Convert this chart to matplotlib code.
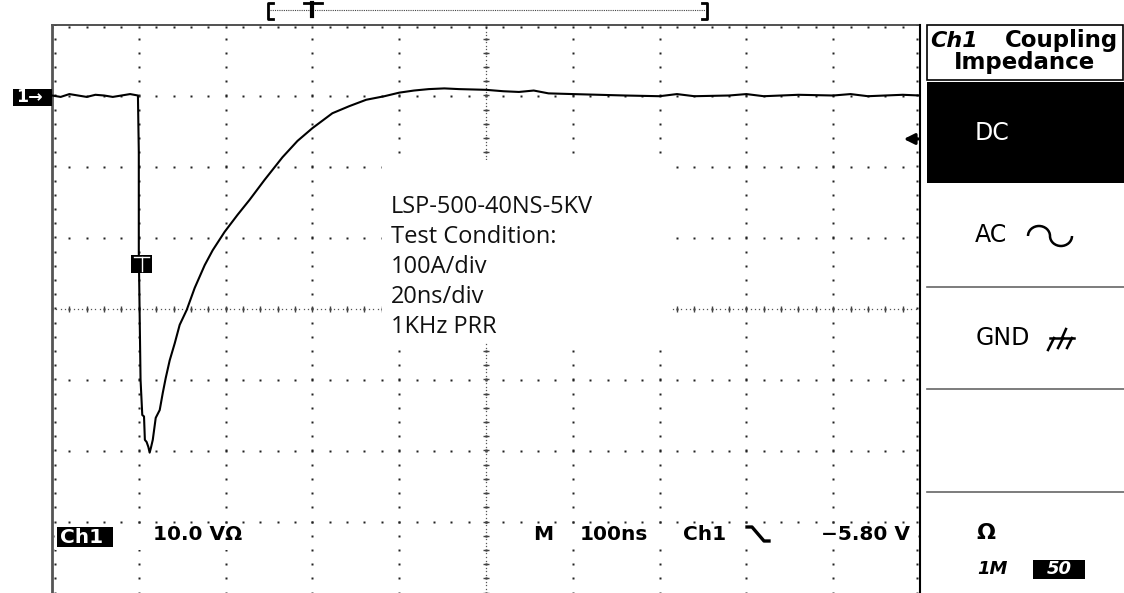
import matplotlib
matplotlib.use("Agg")
import matplotlib.pyplot as plt
import numpy as np
from matplotlib.patches import Rectangle, Arc

# ---------------- data (screen divisions: x 0..10, y -4..4) ----------------
time_div = [0.00, 0.10, 0.20, 0.30, 0.40, 0.50, 0.60, 0.70, 0.80, 0.90, 0.99,
            1.00, 1.00, 1.02, 1.04, 1.06, 1.07, 1.09, 1.11, 1.125, 1.14,
            1.161, 1.195, 1.241, 1.276, 1.31, 1.356, 1.414, 1.471, 1.552,
            1.644, 1.759, 1.851, 1.989, 2.138, 2.276, 2.448, 2.655, 2.828,
            3.00, 3.23, 3.425, 3.62, 3.83, 4.00, 4.17, 4.34, 4.52, 4.69,
            5.00, 5.20, 5.38, 5.55, 5.72, 6.00, 6.30, 6.60, 7.00, 7.20, 7.40,
            7.80, 8.00, 8.20, 8.60, 9.00, 9.20, 9.40, 9.80, 10.00]
amp_div = [3.00, 2.98, 3.02, 3.00, 2.98, 3.01, 3.00, 2.98, 3.00, 3.02, 3.00,
           2.20, 0.80, -1.00, -1.50, -1.52, -1.85, -1.88, -1.95, -2.03, -1.96,
           -1.85, -1.54, -1.43, -1.19, -0.98, -0.73, -0.49, -0.23, -0.02,
           0.29, 0.61, 0.82, 1.08, 1.32, 1.53, 1.81, 2.13, 2.36,
           2.54, 2.75, 2.85, 2.94, 2.99, 3.04, 3.07, 3.09, 3.10, 3.09,
           3.08, 3.06, 3.05, 3.07, 3.03, 3.02, 3.01, 3.00, 2.99, 3.02, 2.99,
           3.00, 3.02, 2.99, 3.01, 3.00, 3.02, 2.99, 3.01, 3.00]

notes = ["LSP-500-40NS-5KV", "Test Condition:", "100A/div", "20ns/div", "1KHz PRR"]
menu_title = ["Ch1", "Coupling", "Impedance"]
menu_items = ["DC", "AC", "GND"]
ch_label = "Ch1"
ch_scale = "10.0 V\u03a9"
readout_words = [("M", 533), ("100ns", 580), ("Ch1", 683)]
trig_level = "\u22125.80 V"

# ---------------- figure ----------------
W, H, DPI = 1124, 593, 100
fig = plt.figure(figsize=(W / DPI, H / DPI), dpi=DPI)
fig.patch.set_facecolor("white")

L, R, T, B = 52, 920, 24.5, 592.5
ax = fig.add_axes([L / W, 1 - B / H, (R - L) / W, (B - T) / H])
ax.set_xlim(0, 10)
ax.set_ylim(-4, 4)
ax.axis("off")

ov = fig.add_axes([0, 0, 1, 1], zorder=5)
ov.set_xlim(0, W)
ov.set_ylim(H, 0)
ov.axis("off")

dot = dict(ls="none", marker="s", ms=1.6, mec="none", mfc="#222222")

# graticule: dotted major lines, 5 dots per division
minor = np.arange(0, 10.001, 0.2)
minor_y = np.arange(-4, 4.001, 0.2)
for gx in range(1, 10):
    ax.plot(np.full_like(minor_y, gx), minor_y, **dot)
for gy in range(-3, 4):
    ax.plot(minor, np.full_like(minor, gy), **dot)
# centre lines: fine dots plus small cross ticks
fine_y = np.arange(-4, 4.001, 0.05)
fine_x = np.arange(0, 10.001, 0.05)
ax.plot(np.full_like(fine_y, 5.0), fine_y, ls="none", marker="s", ms=0.9, mec="none", mfc="#555555")
ax.plot(fine_x, np.zeros_like(fine_x), ls="none", marker="s", ms=0.9, mec="none", mfc="#555555")
ax.plot(np.full_like(minor_y, 5.0), minor_y, ls="none", marker="_", ms=5, mew=1, color="#444444")
ax.plot(minor, np.zeros_like(minor), ls="none", marker="|", ms=5, mew=1, color="#444444")
# border ticks
ax.plot(minor, np.full_like(minor, 3.96), **dot)
ax.plot(np.full_like(minor_y, 0.04), minor_y, **dot)
ax.plot(np.full_like(minor_y, 9.96), minor_y, **dot)

# border lines
ax.plot([0, 10], [4, 4], color="#333333", lw=1.2, clip_on=False)
ax.plot([0, 0], [-4, 4], color="#555555", lw=2, clip_on=False)
ax.plot([10, 10], [-4, 4], color="black", lw=1.5, clip_on=False)

# white boxes behind annotations
ov.add_patch(Rectangle((382, 160), 288, 182, facecolor="white", edgecolor="none", zorder=1))
ov.add_patch(Rectangle((55, 526), 215, 24, facecolor="white", edgecolor="none", zorder=1))
ov.add_patch(Rectangle((525, 525), 393, 24, facecolor="white", edgecolor="none", zorder=1))

# trace
ax.plot(time_div, amp_div, color="black", lw=1.5, zorder=10)

# notes in the middle
for i, s in enumerate(notes):
    ov.text(391, 207 + i * 30, s, fontsize=17, family="Open Sans", va="center", ha="left",
            color="#111111", zorder=3)

# channel marker "1->"
ov.add_patch(Rectangle((13, 89), 39, 17, facecolor="black", edgecolor="none", zorder=3))
ov.text(16, 97.5, "1\u2192", color="white", fontsize=12.5, fontweight="bold", va="center",
        ha="left", family="DejaVu Sans", zorder=4)

# trigger point marker T on trace
ov.add_patch(Rectangle((131, 255), 21, 18, facecolor="black", edgecolor="none", zorder=12))
ov.plot([134, 149], [257, 257], color="white", lw=1, zorder=13)
ov.plot([141.5, 141.5], [257, 271], color="white", lw=1, zorder=13)

# trigger level arrow on right
ov.annotate("", xy=(901, 139), xytext=(921, 139),
            arrowprops=dict(arrowstyle="-|>", lw=2.2, color="black", mutation_scale=16), zorder=6)

# top memory bracket
ov.plot([273, 268, 268, 273], [3, 3, 19, 19], color="black", lw=2)
ov.plot([702, 707, 707, 702], [3, 3, 19, 19], color="black", lw=2)
ov.plot([270, 705], [10, 10], color="#444444", lw=0.8, ls=(0, (1, 1)))
ov.plot([304, 322], [3, 3], color="black", lw=2)
ov.plot([312, 312], [3, 16], color="black", lw=3)

# bottom readouts
ov.add_patch(Rectangle((57, 527), 56, 20, facecolor="black", edgecolor="none", zorder=3))
ov.text(60, 537.5, ch_label, color="white", fontsize=14.5, fontweight="bold", va="center",
        ha="left", family="DejaVu Sans", zorder=4)
ov.text(153, 535, ch_scale, color="black", fontsize=14.5, fontweight="bold", va="center",
        ha="left", family="DejaVu Sans", zorder=4)
for word, xw in readout_words:
    ov.text(xw, 534, word, color="black", fontsize=14.5, fontweight="bold", va="center",
            ha="left", family="DejaVu Sans", zorder=4)
ov.plot([747, 752, 764, 769], [527, 527, 541, 541], color="black", lw=2.4, zorder=4)
ov.text(910, 534, trig_level, color="black", fontsize=14.5, fontweight="bold", va="center",
        ha="right", family="DejaVu Sans", zorder=4)

# ---------------- right side menu ----------------
PX0, PX1 = 927, 1123
ov.add_patch(Rectangle((PX0, 25), PX1 - PX0, 55, facecolor="white", edgecolor="black", lw=1.2))
ov.text(930, 41, menu_title[0], fontsize=16, fontstyle="italic", fontweight="bold", ha="left",
        va="center", family="DejaVu Sans")
ov.text(1118, 41, menu_title[1], fontsize=16.5, fontweight="bold", ha="right", va="center",
        family="DejaVu Sans")
ov.text(1025, 63, menu_title[2], fontsize=16.5, fontweight="bold", ha="center", va="center",
        family="DejaVu Sans")
ov.add_patch(Rectangle((PX0, 82), PX1 - PX0 + 1, 101, facecolor="black", edgecolor="none"))
ov.text(975, 133, menu_items[0], color="white", fontsize=17, ha="left", va="center",
        family="DejaVu Sans")
ov.text(975, 235, menu_items[1], color="black", fontsize=17, ha="left", va="center",
        family="DejaVu Sans")
# sine glyph after "AC"
ov.add_patch(Arc((1039, 236), 22, 20, theta1=180, theta2=360, color="black", lw=1.8))
ov.add_patch(Arc((1061, 236), 22, 20, theta1=0, theta2=180, color="black", lw=1.8))
ov.text(976, 338, menu_items[2], color="black", fontsize=17, ha="left", va="center",
        family="DejaVu Sans")
# ground glyph after "GND"
ov.plot([1050, 1074], [338, 338], color="black", lw=1.8)
ov.plot([1066, 1062], [329, 338], color="black", lw=1.8)
ov.plot([1054, 1048], [338, 350], color="black", lw=1.8)
ov.plot([1063, 1058], [338, 348], color="black", lw=1.8)
ov.plot([1072, 1067], [338, 348], color="black", lw=1.8)
for yy in (287, 389, 492):
    ov.plot([PX0, PX1 + 1], [yy, yy], color="#666666", lw=1.2)
ov.text(976, 533, "\u03a9", fontsize=16, fontweight="bold", ha="left", va="center",
        family="DejaVu Sans")
ov.text(977, 569, "1M", fontsize=13, fontstyle="italic", fontweight="bold", ha="left",
        va="center", family="DejaVu Sans")
ov.add_patch(Rectangle((1033, 560), 52, 19, facecolor="black", edgecolor="none"))
ov.text(1059, 569.5, "50", color="white", fontsize=13, fontstyle="italic", fontweight="bold",
        ha="center", va="center", family="DejaVu Sans")

fig.savefig("out.png", dpi=DPI, facecolor="white")
